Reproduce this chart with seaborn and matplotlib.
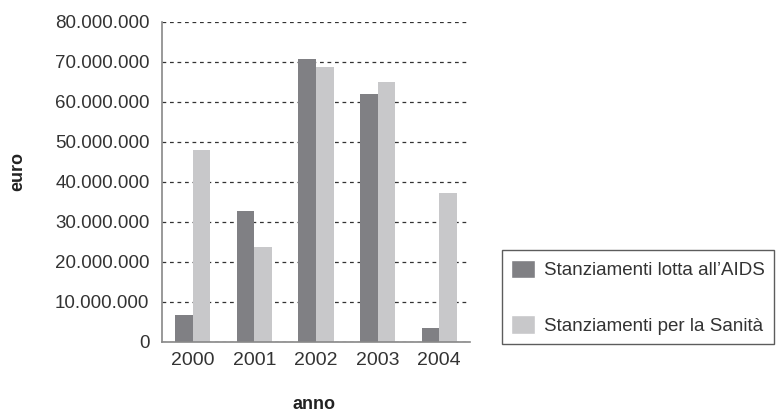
import pandas as pd
import matplotlib
matplotlib.use("Agg")
import matplotlib.pyplot as plt
import seaborn as sns
from matplotlib.ticker import FuncFormatter, FixedLocator
from matplotlib.patches import Patch

# 数据
anni = ["2000", "2001", "2002", "2003", "2004"]
aids = [6800000, 32800000, 70800000, 62000000, 3500000]
sanita = [48000000, 23800000, 68800000, 65000000, 37300000]
serie = ["Stanziamenti lotta all\u2019AIDS", "Stanziamenti per la Sanit\u00e0"]
colori = ["#808084", "#c8c8ca"]

df = pd.DataFrame({
    "anno": anni * 2,
    "euro": aids + sanita,
    "serie": [serie[0]] * len(anni) + [serie[1]] * len(anni),
})

sns.set_style("white")
plt.rcParams["font.family"] = ["Liberation Sans", "DejaVu Sans"]

fig = plt.figure(figsize=(7.76, 4.12), dpi=100)
ax = fig.add_axes([162 / 776, 70 / 412, 308 / 776, 320 / 412])

sns.barplot(data=df, x="anno", y="euro", hue="serie", palette=colori,
            width=0.57, saturation=1, linewidth=0, ax=ax, legend=False)

ax.set_ylim(0, 80000000)
ax.set_xlim(-0.5, 4.5)
ax.yaxis.set_major_locator(FixedLocator(range(0, 80000001, 10000000)))
ax.yaxis.set_major_formatter(FuncFormatter(lambda v, p: f"{v:,.0f}".replace(",", ".")))
ax.grid(True, axis="y", linestyle=(0, (3, 3)), color="#333333", linewidth=0.9)
ax.set_axisbelow(True)

# 坐标轴
for s in ["top", "right"]:
    ax.spines[s].set_visible(False)
for s in ["left", "bottom"]:
    ax.spines[s].set_color("#888888")
    ax.spines[s].set_linewidth(1.2)

ax.tick_params(axis="y", direction="out", length=5, width=1, color="#555555",
               labelsize=13.5, labelcolor="#333333", pad=4)
ax.set_xticks(range(len(anni)))
ax.set_xticklabels(anni)
ax.set_xticks([i - 0.5 for i in range(len(anni) + 1)], minor=True)
ax.tick_params(axis="x", which="major", length=0, labelsize=14, labelcolor="#333333", pad=7)
ax.tick_params(axis="x", which="minor", direction="out", length=6, width=1, color="#333333")

ax.set_xlabel("anno", fontweight="bold", fontsize=13, color="#222222")
ax.set_ylabel("euro", fontweight="bold", fontsize=13, color="#222222")
ax.xaxis.set_label_coords(0.495, -0.194)
ax.xaxis.label.set_va("center")
ax.yaxis.set_label_coords(-0.4675, 0.534)
ax.yaxis.label.set_va("center")
ax.yaxis.label.set_ha("center")

# 图例
handles = [Patch(facecolor=colori[0], label=serie[0]), Patch(facecolor=colori[1], label=serie[1])]
leg = fig.legend(handles=handles, loc="lower left", bbox_to_anchor=(502 / 776, 68 / 412),
                 fontsize=13.5, frameon=True, fancybox=False, labelspacing=1.9,
                 handlelength=1.25, handleheight=1.15, handletextpad=0.5,
                 borderpad=0.5, borderaxespad=0)
leg.get_frame().set_edgecolor("#333333")
leg.get_frame().set_linewidth(1.0)
for t in leg.get_texts():
    t.set_color("#333333")

plt.savefig("out.png", dpi=100)
